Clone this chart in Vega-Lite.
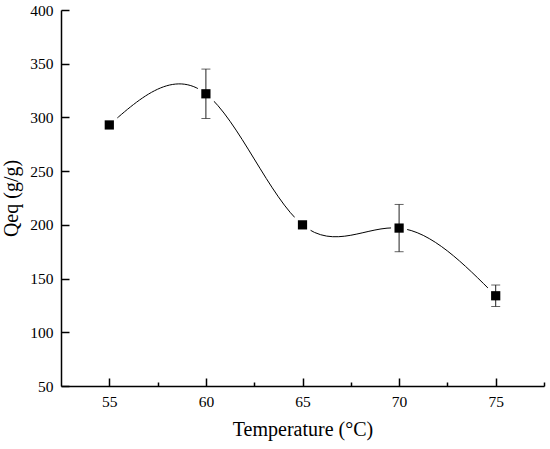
{
  "$schema": "https://vega.github.io/schema/vega-lite/v6.json",
  "width": 483,
  "height": 376,
  "autosize": {"type": "none"},
  "padding": {"left": 61, "top": 10, "right": 6, "bottom": 63},
  "background": "white",
  "config": {
    "view": {"stroke": null},
    "font": "Liberation Serif",
    "axis": {
      "domainColor": "black",
      "domainWidth": 1.5,
      "tickColor": "black",
      "tickWidth": 1.5,
      "labelColor": "black",
      "titleColor": "black",
      "labelFont": "Liberation Serif",
      "titleFont": "Liberation Serif",
      "labelFontSize": 15.5,
      "titleFontSize": 20,
      "titleFontWeight": "normal",
      "grid": false
    }
  },
  "data": {
    "values": [
      {"temp": 55, "qeq": 293},
      {"temp": 60, "qeq": 322, "lo": 299, "hi": 345},
      {"temp": 65, "qeq": 200},
      {"temp": 70, "qeq": 197, "lo": 175, "hi": 219},
      {"temp": 75, "qeq": 134, "lo": 124, "hi": 144}
    ]
  },
  "encoding": {
    "x": {
      "field": "temp",
      "type": "quantitative",
      "scale": {"domain": [52.5, 77.5], "nice": false, "zero": false},
      "axis": {
        "title": "Temperature (°C)",
        "values": [55, 57.5, 60, 62.5, 65, 67.5, 70, 72.5, 75, 77.5],
        "labelExpr": "datum.value % 5 === 0 ? datum.label : ''",
        "tickSize": {"condition": {"test": "datum.value % 5 !== 0", "value": -4}, "value": -8},
        "labelPadding": 16,
        "titlePadding": 10
      }
    },
    "y": {
      "field": "qeq",
      "type": "quantitative",
      "scale": {"domain": [50, 400], "nice": false, "zero": false},
      "axis": {
        "title": "Qeq (g/g)",
        "values": [50, 100, 150, 200, 250, 300, 350, 400],
        "tickSize": -8,
        "labelPadding": 16,
        "titlePadding": 8
      }
    }
  },
  "layer": [
    {
      "mark": {"type": "line", "color": "black", "strokeWidth": 1, "interpolate": "natural"}
    },
    {
      "mark": {"type": "square", "filled": true, "color": "white", "size": 260, "opacity": 1}
    },
    {
      "transform": [{"filter": {"field": "lo", "valid": true}}],
      "mark": {"type": "rule", "color": "#222222", "strokeWidth": 1},
      "encoding": {"y": {"field": "lo", "type": "quantitative"}, "y2": {"field": "hi"}}
    },
    {
      "transform": [{"filter": {"field": "lo", "valid": true}}],
      "mark": {"type": "tick", "orient": "horizontal", "color": "#222222", "size": 9, "thickness": 1},
      "encoding": {"y": {"field": "lo", "type": "quantitative"}}
    },
    {
      "transform": [{"filter": {"field": "hi", "valid": true}}],
      "mark": {"type": "tick", "orient": "horizontal", "color": "#222222", "size": 9, "thickness": 1},
      "encoding": {"y": {"field": "hi", "type": "quantitative"}}
    },
    {
      "mark": {"type": "square", "filled": true, "color": "black", "size": 85, "opacity": 1}
    }
  ]
}
